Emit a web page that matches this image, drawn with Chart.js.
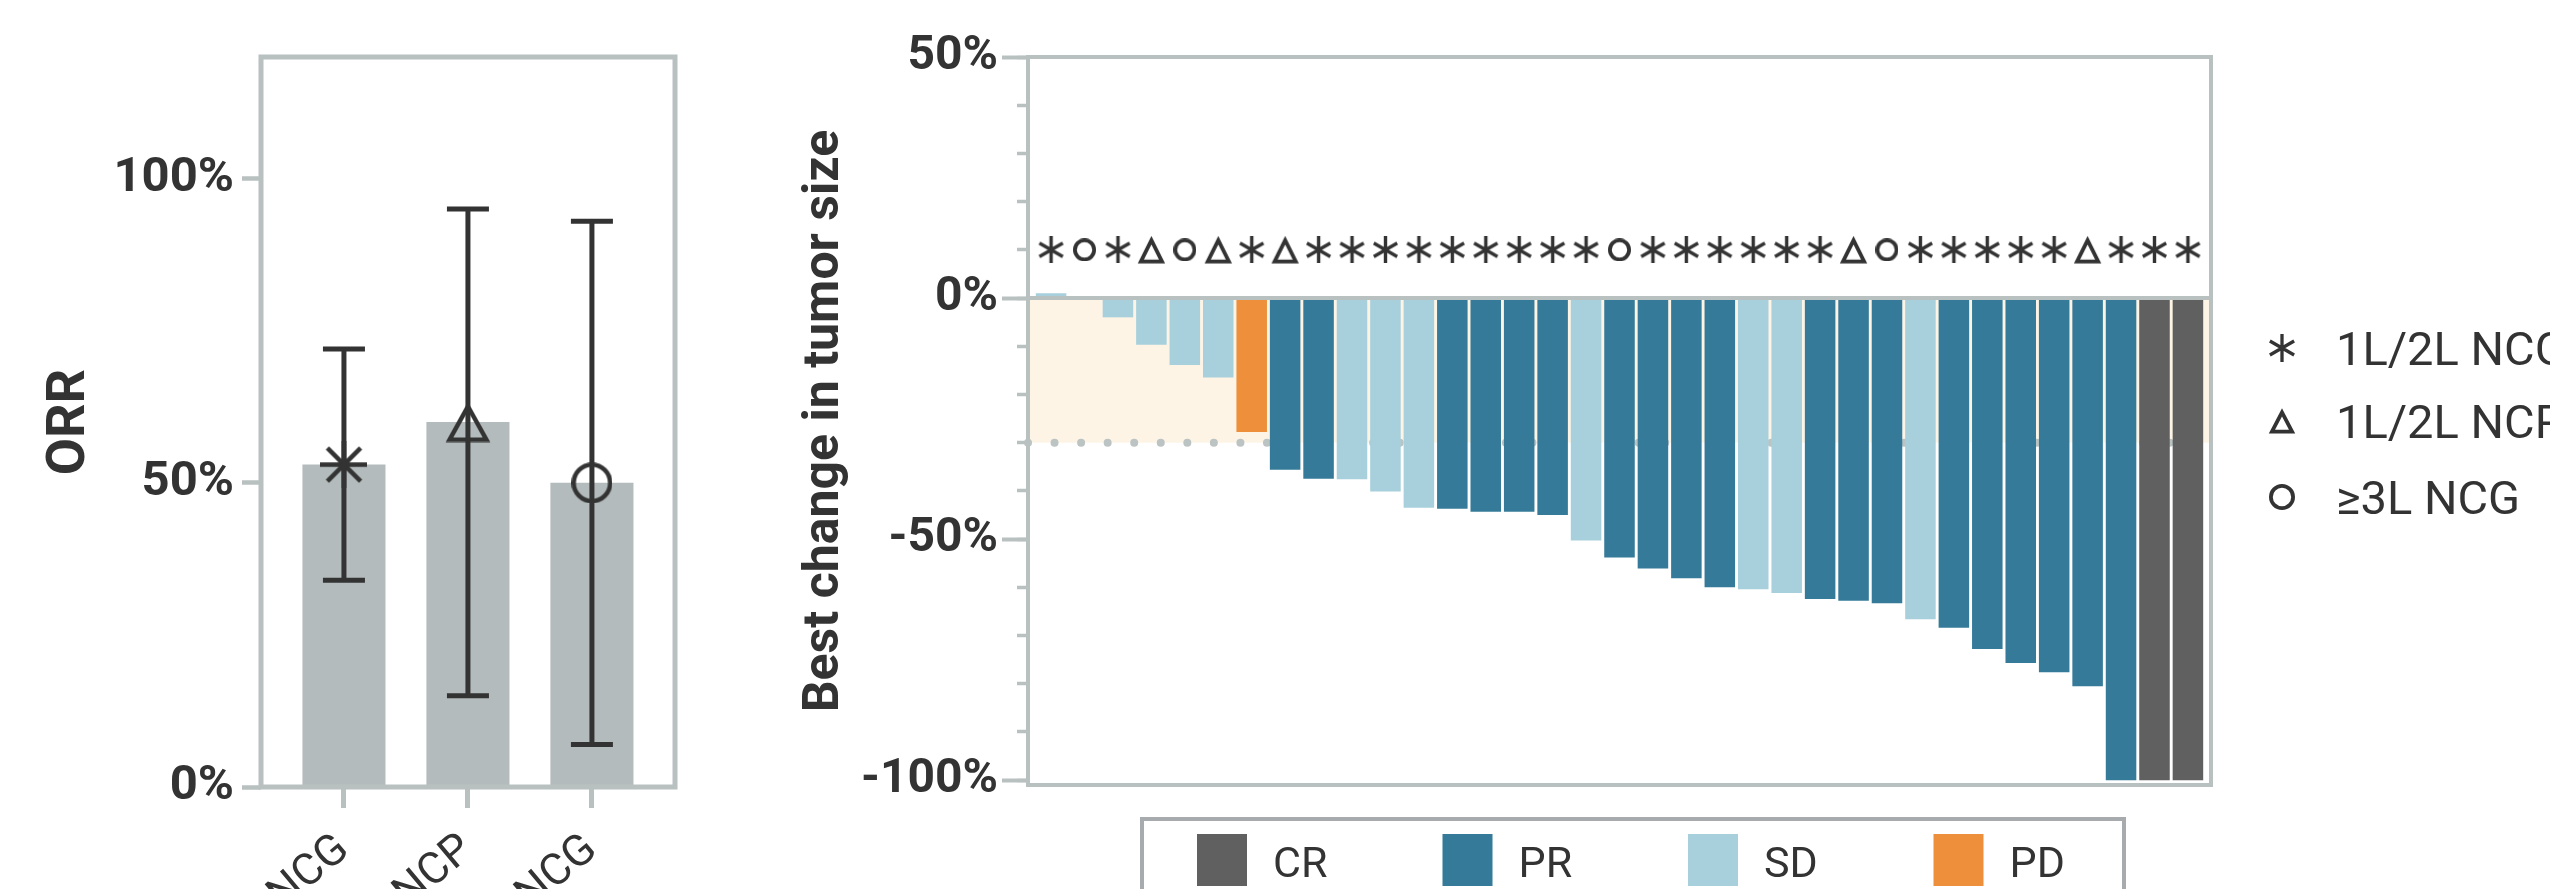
<!DOCTYPE html>
<html>
<head>
<meta charset="utf-8">
<script src="https://cdn.jsdelivr.net/npm/chart.js@4.4.0/dist/chart.umd.min.js"></script>
<style>
  html, body { margin: 0; padding: 0; background: #fff; }
  body { width: 2550px; height: 889px; overflow: hidden; position: relative; }
  canvas { position: absolute; top: 0; }
  #orrChart { left: 0; }
  #waterfallChart { left: 740px; }
</style>
</head>
<body>
<canvas id="orrChart" width="715" height="889"></canvas>
<canvas id="waterfallChart" width="1810" height="889"></canvas>
<script>
// ORR by group (left panel)
const groupLabels = ['1L/2L NCG', '1L/2L NCP', '≥3L NCG'];
const groupMarkers = ['asterisk', 'triangle', 'circle'];
const orr = [53, 60, 50];
const ciLow = [34, 15, 7];
const ciHigh = [72, 95, 93];
const orrTicks = [0, 50, 100];

// waterfall (right panel)
const bestChange = [1, 0, -4, -9.7, -13.9, -16.5, -27.8, -35.6, -37.5, -37.6, -40.1, -43.5, -43.7, -44.3, -44.3, -45,
  -50.3, -53.8, -56.1, -58.1, -60, -60.4, -61.2, -62.4, -62.8, -63.3, -66.6, -68.4, -72.8, -75.7, -77.6, -80.5, -100, -100, -100];
const response = ['SD', 'SD', 'SD', 'SD', 'SD', 'SD', 'PD', 'PR', 'PR', 'SD', 'SD', 'SD', 'PR', 'PR', 'PR', 'PR',
  'SD', 'PR', 'PR', 'PR', 'PR', 'SD', 'SD', 'PR', 'PR', 'PR', 'SD', 'PR', 'PR', 'PR', 'PR', 'PR', 'PR', 'CR', 'CR'];
// 0 = 1L/2L NCG, 1 = 1L/2L NCP, 2 = >=3L NCG
const patientGroup = [0, 2, 0, 1, 2, 1, 0, 1, 0, 0, 0, 0, 0, 0, 0, 0, 0, 2, 0, 0, 0, 0, 0, 0, 1, 2, 0, 0, 0, 0, 0, 1, 0, 0, 0];
const markerLevel = 10;
const responseLabels = ['CR', 'PR', 'SD', 'PD'];
const responseColors = { CR: '#606060', PR: '#357b99', SD: '#a7d0dc', PD: '#ee8f3b' };
const sdBand = [0, -30];
const changeTicks = [-100, -50, 0, 50];
const changeMinorTicks = [-100, -90, -80, -70, -60, -50, -40, -30, -20, -10, 0, 10, 20, 30, 40, 50];

const ink = '#333333';
const gray = '#b8c0c0';

Chart.defaults.font.family = 'Roboto';
Chart.defaults.color = ink;

// small canvases used as point styles
function makeMarker(kind, w, h, lw) {
  const c = document.createElement('canvas');
  c.width = w; c.height = h;
  const g = c.getContext('2d');
  g.strokeStyle = ink;
  g.lineWidth = lw;
  const cx = w / 2, cy = h / 2;
  g.beginPath();
  if (kind === 'asterisk' || kind === 'star') {
    const r = Math.min(w, h) / 2;
    const angles = kind === 'asterisk' ? [90, 30, -30] : [0, 45, 90, 135];
    angles.forEach(a => {
      const t = a * Math.PI / 180;
      g.moveTo(cx - r * Math.cos(t), cy - r * Math.sin(t));
      g.lineTo(cx + r * Math.cos(t), cy + r * Math.sin(t));
    });
  } else if (kind === 'triangle') {
    g.lineJoin = 'miter';
    g.moveTo(cx, lw + 0.5);
    g.lineTo(w - lw * 0.9 - 0.5, h - lw / 2 - 0.5);
    g.lineTo(lw * 0.9 + 0.5, h - lw / 2 - 0.5);
    g.closePath();
  } else {
    g.arc(cx, cy, Math.min(w, h) / 2 - lw / 2, 0, Math.PI * 2);
  }
  g.stroke();
  return c;
}

const leftMarkers = {
  asterisk: makeMarker('star', 47, 47, 4.5),
  triangle: makeMarker('triangle', 46, 41, 4.5),
  circle: makeMarker('circle', 41, 41, 4.5)
};
const plotMarkers = {
  asterisk: makeMarker('asterisk', 27, 27, 3.4),
  triangle: makeMarker('triangle', 29, 28, 3.8),
  circle: makeMarker('circle', 23, 23, 3.8)
};
const legendMarkers = {
  asterisk: makeMarker('asterisk', 28, 28, 3.3),
  triangle: makeMarker('triangle', 28, 26, 3.8),
  circle: makeMarker('circle', 26, 26, 3.8)
};

const frame = {
  id: 'frame',
  afterDatasetsDraw(chart, args, opts) {
    const { ctx, chartArea: a } = chart;
    ctx.save();
    ctx.strokeStyle = opts.color;
    ctx.lineWidth = opts.width;
    ctx.strokeRect(a.left, a.top, a.right - a.left, a.bottom - a.top);
    if (opts.zeroLine) {
      const y0 = chart.scales.y.getPixelForValue(0);
      ctx.beginPath();
      ctx.moveTo(a.left, y0);
      ctx.lineTo(a.right, y0);
      ctx.stroke();
    }
    ctx.restore();
  }
};

const errorBars = {
  id: 'errorBars',
  afterDatasetsDraw(chart, args, opts) {
    const { ctx, scales: { x, y } } = chart;
    ctx.save();
    ctx.strokeStyle = ink;
    ctx.lineWidth = opts.width;
    ciLow.forEach((lo, i) => {
      const px = x.getPixelForValue(i);
      const y1 = y.getPixelForValue(lo);
      const y2 = y.getPixelForValue(ciHigh[i]);
      ctx.beginPath();
      ctx.moveTo(px, y1); ctx.lineTo(px, y2);
      ctx.moveTo(px - opts.cap / 2, y1); ctx.lineTo(px + opts.cap / 2, y1);
      ctx.moveTo(px - opts.cap / 2, y2); ctx.lineTo(px + opts.cap / 2, y2);
      ctx.stroke();
    });
    ctx.restore();
  }
};

// shaded band 0..-30% and dotted threshold line
const band = {
  id: 'band',
  beforeDraw(chart, args, opts) {
    const { ctx, chartArea: a, scales: { y } } = chart;
    const y0 = y.getPixelForValue(sdBand[0]);
    const y1 = y.getPixelForValue(sdBand[1]);
    ctx.save();
    ctx.fillStyle = opts.fill;
    ctx.fillRect(a.left, y0, a.right - a.left, y1 - y0);
    ctx.strokeStyle = opts.dotColor;
    ctx.lineWidth = opts.dotSize;
    ctx.lineCap = 'round';
    ctx.setLineDash([0, opts.dotGap]);
    ctx.beginPath();
    ctx.moveTo(a.left, y1);
    ctx.lineTo(a.right, y1);
    ctx.stroke();
    ctx.restore();
  }
};

const sideLegends = {
  id: 'sideLegends',
  afterDraw(chart, args, o) {
    const ctx = chart.ctx;
    ctx.save();
    ctx.fillStyle = ink;
    ctx.textBaseline = 'alphabetic';
    ctx.font = '400 ' + o.groupFont + 'px Roboto';
    groupLabels.forEach((label, i) => {
      const cy = o.groupY[i];
      const m = legendMarkers[groupMarkers[i]];
      ctx.drawImage(m, o.groupMarkerX - m.width / 2, cy - m.height / 2);
      ctx.fillText(label, o.groupTextX, cy + o.groupFont * 0.355);
    });

    const b = o.box;
    ctx.strokeStyle = b.border;
    ctx.lineWidth = 4;
    ctx.strokeRect(b.x, b.y, b.w, b.h);
    ctx.font = '400 ' + b.font + 'px Roboto';
    responseLabels.forEach((r, i) => {
      const x = b.itemX + i * b.itemGap;
      ctx.fillStyle = responseColors[r];
      ctx.fillRect(x, b.swatchY, b.swatchW, b.swatchH);
      ctx.fillStyle = ink;
      ctx.fillText(r, x + b.textDx, b.baseline);
    });
    ctx.restore();
  }
};

new Chart(document.getElementById('orrChart'), {
  type: 'bar',
  data: {
    datasets: [
      {
        type: 'line',
        order: 0,
        data: orr.map((v, i) => ({ x: i, y: v })),
        showLine: false,
        pointStyle: groupMarkers.map(k => leftMarkers[k]),
        pointRadius: 20
      },
      {
        type: 'bar',
        order: 1,
        data: orr.map((v, i) => ({ x: i, y: v })),
        backgroundColor: '#b4bbbc',
        barPercentage: 0.67,
        categoryPercentage: 1
      }
    ]
  },
  options: {
    responsive: false,
    animation: false,
    events: [],
    layout: { padding: { left: 0, right: 40, top: 57, bottom: 0 } },
    plugins: {
      legend: { display: false },
      tooltip: { enabled: false },
      frame: { color: gray, width: 5 },
      errorBars: { width: 5, cap: 42 }
    },
    scales: {
      x: {
        type: 'linear',
        min: -0.669,
        max: 2.67,
        offset: false,
        afterBuildTicks: s => { s.ticks = groupLabels.map((_, i) => ({ value: i })); },
        afterFit: s => { s.height = 102; },
        ticks: {
          callback: v => groupLabels[Math.round(v)],
          minRotation: 40,
          maxRotation: 40,
          autoSkip: false,
          padding: 16,
          font: { size: 44 }
        },
        grid: { offset: false, drawOnChartArea: false, tickLength: 21, tickWidth: 5, tickColor: gray },
        border: { display: false }
      },
      y: {
        min: 0,
        max: 120,
        afterBuildTicks: s => { s.ticks = orrTicks.map(v => ({ value: v })); },
        afterFit: s => { s.width = 261; },
        ticks: {
          callback: v => v + '%',
          padding: 8,
          font: { size: 49, weight: 'bold' }
        },
        grid: { drawOnChartArea: false, tickLength: 19, tickWidth: 4.5, tickColor: gray },
        border: { display: false },
        title: {
          display: true,
          text: 'ORR',
          font: { size: 54, weight: 'bold' },
          padding: { top: 38, bottom: 0 }
        }
      }
    }
  },
  plugins: [frame, errorBars]
});

new Chart(document.getElementById('waterfallChart'), {
  type: 'bar',
  data: {
    datasets: [
      {
        type: 'line',
        order: 0,
        yAxisID: 'y',
        data: patientGroup.map((g, i) => ({ x: i, y: markerLevel })),
        showLine: false,
        pointStyle: patientGroup.map(g => plotMarkers[groupMarkers[g]]),
        pointRadius: 12
      },
      {
        type: 'bar',
        order: 1,
        yAxisID: 'y',
        data: bestChange.map((v, i) => ({ x: i, y: v })),
        backgroundColor: response.map(r => responseColors[r]),
        barPercentage: 0.913,
        categoryPercentage: 1
      }
    ]
  },
  options: {
    responsive: false,
    animation: false,
    events: [],
    layout: { padding: { left: 0, right: 339, top: 57, bottom: 104 } },
    plugins: {
      legend: { display: false },
      tooltip: { enabled: false },
      band: { fill: '#fdf4e6', dotColor: '#bcc3c3', dotSize: 8, dotGap: 26.55 },
      frame: { color: gray, width: 4, zeroLine: true },
      sideLegends: {
        groupFont: 47,
        groupMarkerX: 1542,
        groupTextX: 1596,
        groupY: [348, 421, 497],
        box: {
          x: 402, y: 819, w: 982, h: 200, border: '#a8abad',
          itemX: 457, itemGap: 245.5, swatchY: 834, swatchW: 50, swatchH: 52,
          textDx: 76, baseline: 877, font: 43
        }
      }
    },
    scales: {
      x: { type: 'linear', display: false, min: -0.69, max: 34.69, offset: false },
      y: {
        position: 'left',
        weight: 1,
        min: -101,
        max: 50,
        afterBuildTicks: s => { s.ticks = changeTicks.map(v => ({ value: v })); },
        afterFit: s => { s.width = 288; },
        ticks: {
          callback: v => v + '%',
          padding: 4,
          font: { size: 48, weight: 'bold' }
        },
        grid: { drawOnChartArea: false, tickLength: 26, tickWidth: 4, tickColor: gray },
        border: { display: false },
        title: {
          display: true,
          text: 'Best change in tumor size',
          font: { size: 50, weight: 'bold' },
          padding: { top: 55, bottom: 0 }
        }
      },
      yMinor: {
        position: 'left',
        weight: 0,
        min: -101,
        max: 50,
        afterBuildTicks: s => { s.ticks = changeMinorTicks.map(v => ({ value: v })); },
        afterFit: s => { s.width = 0; },
        ticks: { display: false },
        grid: { drawOnChartArea: false, tickLength: 11, tickWidth: 3.5, tickColor: gray },
        border: { display: false }
      }
    }
  },
  plugins: [band, frame, sideLegends]
});
</script>
</body>
</html>
